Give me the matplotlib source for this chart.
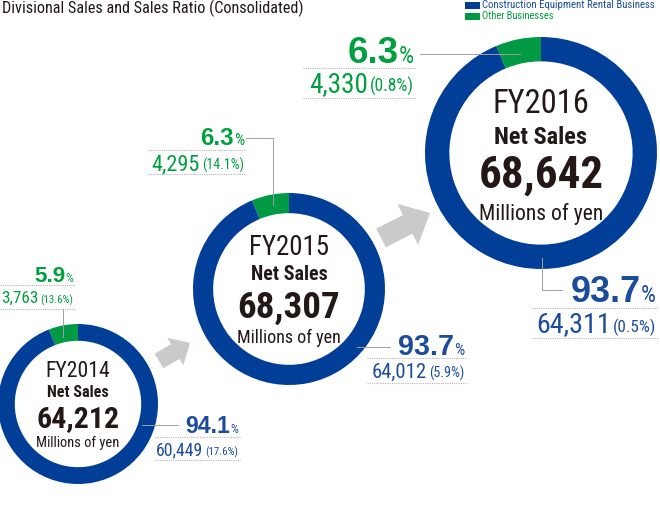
import matplotlib
matplotlib.use('Agg')
import matplotlib.pyplot as plt
from matplotlib import font_manager
from matplotlib.patches import FancyArrow, Rectangle

# 数据
years = ['FY2014', 'FY2015', 'FY2016']
net_sales = [64212, 68307, 68642]
rental_share = [94.1, 93.7, 93.7]
other_share = [5.9, 6.3, 6.3]
rental_sales = [60449, 64012, 64311]
rental_yoy = [17.6, 5.9, 0.5]
other_sales = [3763, 4295, 4330]
other_yoy = [13.6, 14.1, 0.8]
legend_labels = ['Construction Equipment Rental Business', 'Other Businesses']

BLUE = '#003e98'
GREEN = '#009a44'
BLUE_TXT = '#1b4c9c'
GREEN_TXT = '#00a040'
DARK = '#231815'
GRAY = '#c9caca'
LINE = '#b5b5b5'
W, H = 660, 531


def pick_font(names):
    for n in names:
        try:
            font_manager.findfont(font_manager.FontProperties(family=n), fallback_to_default=False)
            return n
        except ValueError:
            pass
    return 'DejaVu Sans'


NARROW = [pick_font(['Liberation Sans Narrow', 'DejaVu Sans Condensed', 'Roboto Condensed',
                     'Roboto', 'Liberation Sans']), 'DejaVu Sans']
WIDE = ['Liberation Sans', 'DejaVu Sans']

# 每个圆的布局 (像素坐标, y 向下); 文字: (字号, 目标宽度, 基线)
layout = [
    dict(cx=78, cy=404, r=80,
         inner=[(14, 65, 377), (11, 62, 397), (21, 83, 427), (12, 84, 447)],
         g=dict(xr=73, y1=282, y2=303, l1=285, l2=309, x0=0,
                big=(14, 34), pct=(8, 9), val=(12, 37), yoy=(8, 33),
                lead=[(63, 309), (63, 337)]),
         b=dict(xr=238, y1=433, y2=455, l1=437, l2=460, x0=155,
                big=(15, 45), pct=(8, 9), val=(12, 47), yoy=(8, 33),
                lead=[(142, 425), (178, 425)])),
    dict(cx=289, cy=289, r=96,
         inner=[(17, 80, 255), (14, 77, 280), (25, 103, 318), (14, 104, 343)],
         g=dict(xr=244, y1=145, y2=170, l1=150, l2=174, x0=148,
                big=(15, 41), pct=(10, 12), val=(14, 49), yoy=(9, 42),
                lead=[(246, 138), (273, 138), (273, 205)]),
         b=dict(xr=464, y1=355, y2=378, l1=358, l2=383, x0=367,
                big=(18, 57), pct=(10, 12), val=(13, 58), yoy=(9, 35),
                lead=[(357, 347), (390, 347)])),
    dict(cx=541, cy=153, r=116,
         inner=[(21, 97, 113), (17, 93, 144), (32, 125, 188), (17, 125, 220)],
         g=dict(xr=414, y1=63, y2=92, l1=68, l2=98, x0=303,
                big=(23, 53), pct=(15, 16), val=(17, 63), yoy=(12, 44),
                lead=[(420, 54), (520, 54)]),
         b=dict(xr=656, y1=302, y2=332, l1=308, l2=338, x0=532,
                big=(25, 70), pct=(15, 15), val=(18, 75), yoy=(12, 43),
                lead=[(542, 258), (542, 290), (562, 290)])),
]
arrows = [((159, 361), (190, 343), 17, 32, 17), ((381, 238), (430, 213), 21, 46, 25)]

fig = plt.figure(figsize=(6.6, 5.31), dpi=100)
ax = fig.add_axes([0, 0, 1, 1])
renderer = fig.canvas.get_renderer()


def Y(y):
    return H - y


# 圆环
for i, lay in enumerate(layout):
    ax.pie([other_share[i], rental_share[i]], colors=[GREEN, BLUE], startangle=90,
           counterclock=True, center=(lay['cx'], Y(lay['cy'])), radius=lay['r'],
           wedgeprops=dict(width=lay['r'] * 0.21, linewidth=0))

ax.set_xlim(0, W)
ax.set_ylim(0, H)
ax.set_aspect('equal')
ax.axis('off')


def put(x, y, s, size, width, ha, **kw):
    t = ax.text(x, Y(y), s, ha=ha, va='baseline', fontsize=size, **kw)
    w = t.get_window_extent(renderer=renderer).width
    scale = min(max(width / w, 0.7), 1.15)
    t.set_fontsize(size * scale)
    return t


def pair(xr, y, big, small, color, bspec, sspec, big_family, bold, gap):
    t = put(xr, y, small, sspec[0], sspec[1], 'right', color=color, family=NARROW)
    bb = t.get_window_extent(renderer=renderer)
    xl = ax.transData.inverted().transform((bb.x0, bb.y0))[0]
    put(xl - gap, y, big, bspec[0], bspec[1], 'right', color=color, family=big_family,
        fontweight='bold' if bold else 'normal')


for i, lay in enumerate(layout):
    cx = lay['cx']
    texts = [years[i], 'Net Sales', f'{net_sales[i]:,}', 'Millions of yen']
    weights = ['normal', 'bold', 'bold', 'normal']
    for t, (fs, tw, b), wt in zip(texts, lay['inner'], weights):
        put(cx, b, t, fs, tw, 'center', color=DARK, family=NARROW, fontweight=wt)

    for key, share, sales, yoy, col in [('g', other_share[i], other_sales[i], other_yoy[i], GREEN_TXT),
                                         ('b', rental_share[i], rental_sales[i], rental_yoy[i], BLUE_TXT)]:
        d = lay[key]
        pair(d['xr'], d['y1'], f'{share:.1f}', '%', col, d['big'], d['pct'], WIDE, True, 0)
        pair(d['xr'], d['y2'], f'{sales:,}', f'({yoy:.1f}%)', col, d['val'], d['yoy'], NARROW, False, 2)
        for ly in (d['l1'], d['l2']):
            ax.plot([d['x0'], d['xr'] + 2], [Y(ly), Y(ly)], color=LINE, lw=0.8,
                    linestyle=(0, (1, 1)))
        xs, ys = zip(*d['lead'])
        ax.plot(xs, [Y(v) for v in ys], color='#a0a0a0', lw=0.7)

for (x0, y0), (x1, y1), w, hw, hl in arrows:
    ax.add_patch(FancyArrow(x0, Y(y0), x1 - x0, Y(y1) - Y(y0), width=w, head_width=hw,
                            head_length=hl, length_includes_head=True, color=GRAY, lw=0))

# 标题和图例
put(2, 13, 'Divisional Sales and Sales Ratio (Consolidated)', 11, 301, 'left',
    color=DARK, family=NARROW)
for j, (lab, col, tcol) in enumerate(zip(legend_labels, [BLUE, GREEN], [BLUE_TXT, GREEN_TXT])):
    ax.add_patch(Rectangle((465, Y(9 + j * 11)), 15, 7, color=col, lw=0))
    put(482, 8 + j * 11, lab, 7, 173 if j == 0 else 73, 'left', color=tcol, family=NARROW)

ax.set_xlim(0, W)
ax.set_ylim(0, H)
fig.savefig('out.png', dpi=100)
